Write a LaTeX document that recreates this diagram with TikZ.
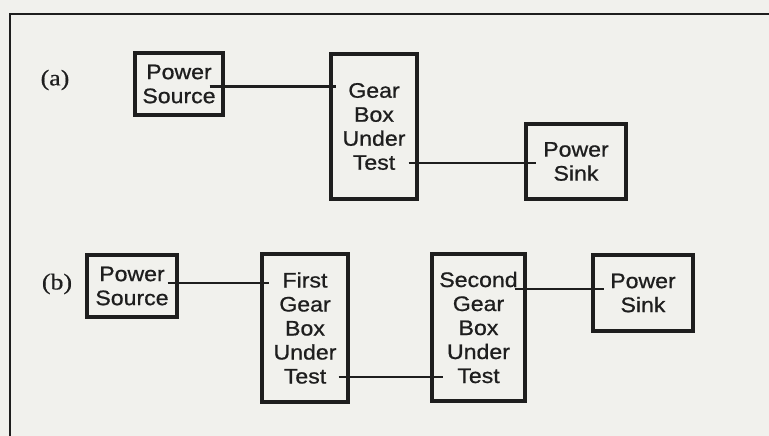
\documentclass[tikz,border=0pt]{standalone}
\usepackage{fontspec}
\setmainfont{Liberation Sans}[FakeStretch=1.1,FakeBold=0.8]
\newfontfamily\labfont{Liberation Serif}[FakeStretch=1.15,FakeBold=0.6]
\definecolor{ink}{RGB}{30,30,30}
\definecolor{paper}{RGB}{241,241,237}
\begin{document}
\begin{tikzpicture}[x=1pt,y=-1pt,
  blk/.style={draw=ink,line width=3.2pt,text=ink,align=center,inner sep=0pt,
    font=\fontsize{21}{24}\selectfont},
  wire/.style={draw=ink,line width=2.4pt},
  frame/.style={draw=ink,line width=2.6pt},
  lab/.style={text=ink,font=\labfont\fontsize{22.5}{24}\selectfont}]
\fill[paper] (0,0) rectangle (769,436);
\useasboundingbox (0,0) rectangle (769,436);
\draw[frame] (10,436) -- (10,14) -- (769,14);
% (a)
\node[lab] (la) at (55,80) {(a)};
\node[blk,minimum width=88pt,minimum height=62pt] (psa) at (179,84) {Power\\Source};
\node[blk,minimum width=86pt,minimum height=145pt] (gba) at (374,126.5) {Gear\\Box\\Under\\Test};
\node[blk,minimum width=100pt,minimum height=75pt] (pska) at (576,161.5) {Power\\Sink};
\draw[wire] ([shift={(-15,2.7)}]psa.east) -- ([shift={(7,-39.8)}]gba.west);
\draw[wire] ([shift={(-10,36.5)}]gba.east) -- ([shift={(12,1.5)}]pska.west);
% (b)
\node[lab] (lb) at (57,284) {(b)};
\node[blk,minimum width=90pt,minimum height=62pt] (psb) at (132,286) {Power\\Source};
\node[blk,minimum width=86pt,minimum height=148pt] (gbf) at (305,328) {First\\Gear\\Box\\Under\\Test};
\node[blk,minimum width=93pt,minimum height=147pt] (gbs) at (478.5,327.5) {Second\\Gear\\Box\\Under\\Test};
\node[blk,minimum width=100pt,minimum height=76pt] (pskb) at (643,293) {Power\\Sink};
\draw[wire] ([shift={(-11,-3.3)}]psb.east) -- ([shift={(9,-45.3)}]gbf.west);
\draw[wire] ([shift={(-11,49)}]gbf.east) -- ([shift={(13,49.5)}]gbs.west);
\draw[wire] ([shift={(-12,-38.5)}]gbs.east) -- ([shift={(13,-4)}]pskb.west);
\end{tikzpicture}
\end{document}
